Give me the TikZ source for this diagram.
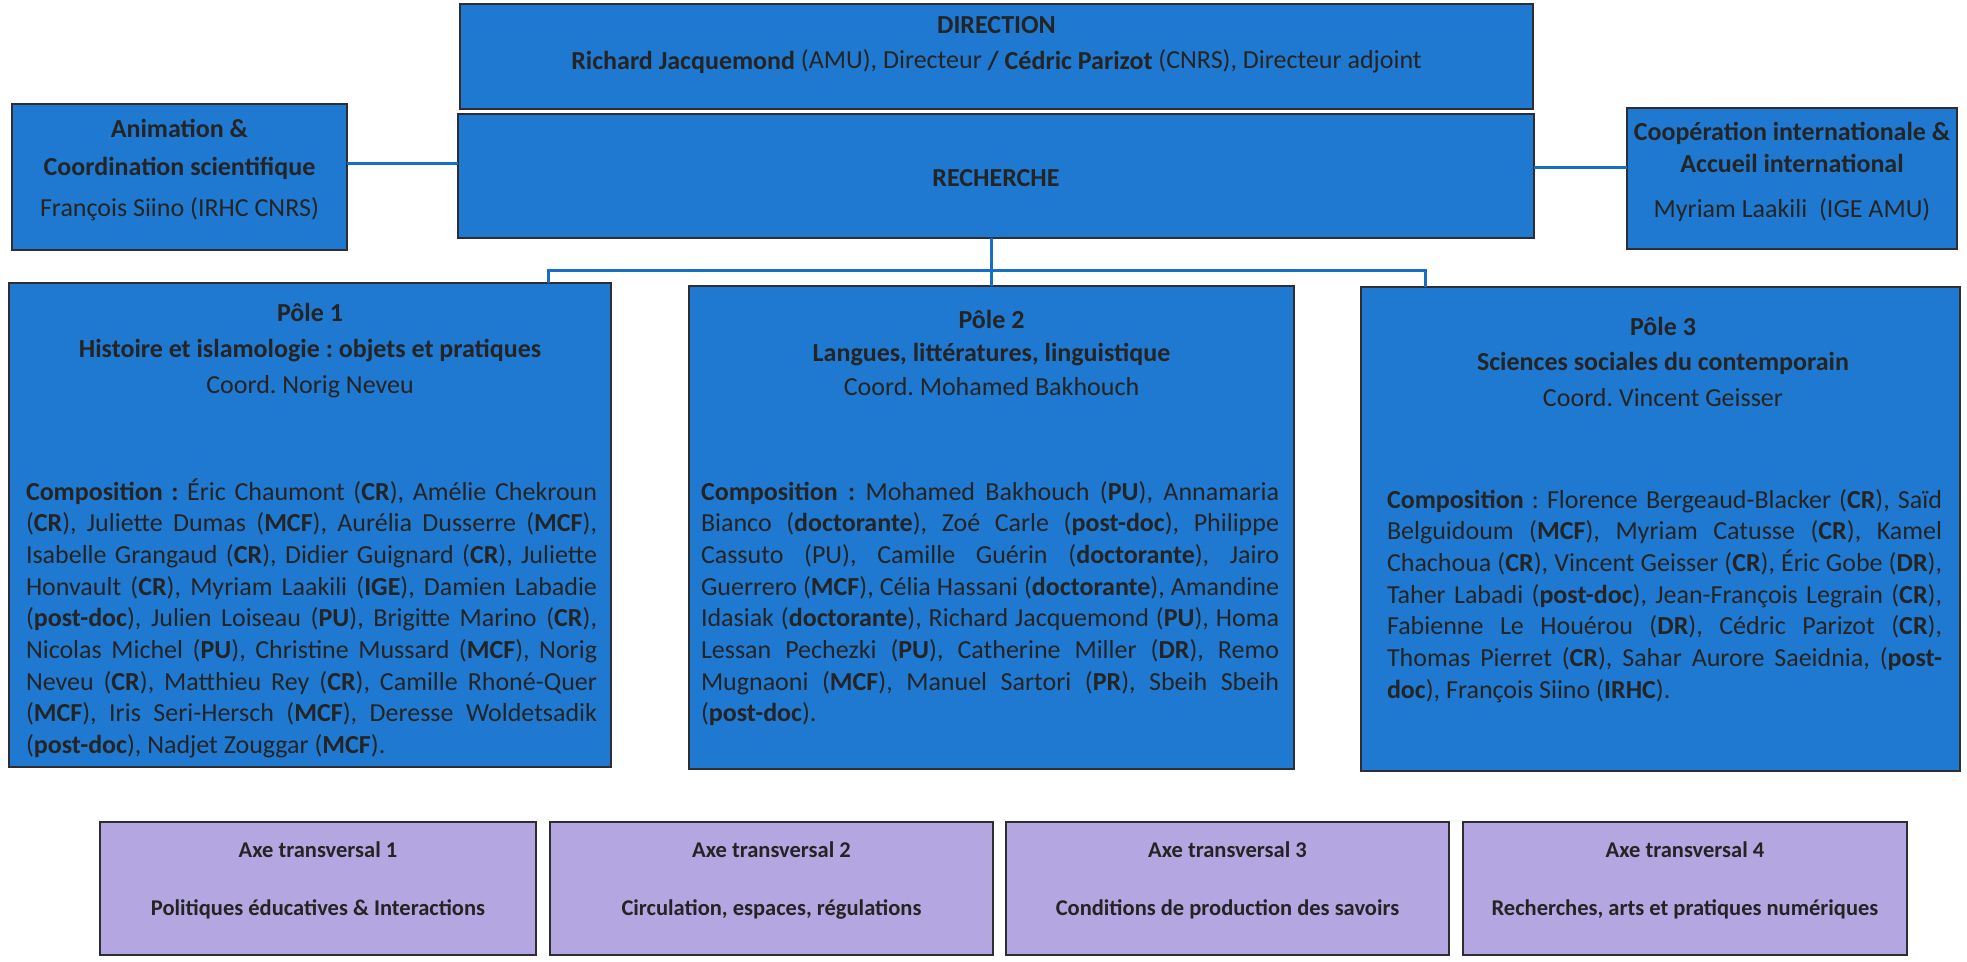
\documentclass[tikz,border=0pt]{standalone}
\usepackage{fontspec}
\setmainfont{Carlito}
\frenchspacing
\definecolor{boxblue}{RGB}{31,121,208}
\definecolor{axepurple}{RGB}{180,166,224}
\definecolor{ink}{RGB}{36,36,36}
\definecolor{rimgray}{RGB}{45,45,50}
\definecolor{linkblue}{RGB}{25,110,195}
\newcommand\justline[1]{\makebox[\linewidth][s]{#1}\par}
\newcommand\lastline[1]{\makebox[\linewidth][l]{#1}\par}
\begin{document}
\begin{tikzpicture}[x=1pt,y=-1pt,
  bluebox/.style={draw=rimgray, line width=2pt, fill=boxblue, inner sep=0pt, outer sep=0pt, anchor=north west},
  axebox/.style={draw=rimgray, line width=2pt, fill=axepurple, inner sep=0pt, outer sep=0pt, anchor=north west},
  txt/.style={inner sep=0pt, outer sep=0pt, anchor=base, text=ink, font=\fontsize{26}{36}\selectfont},
  para/.style={inner sep=0pt, outer sep=0pt, anchor=base west, text=ink, font=\fontsize{26}{31.7}\selectfont},
  axetxt/.style={inner sep=0pt, outer sep=0pt, anchor=base, text=ink, font=\fontsize{22.5}{58}\selectfont},
  link/.style={draw=linkblue, line width=3pt}]
\useasboundingbox (0,0) rectangle (1967,961);

% boxes
\node[bluebox, minimum width=1073pt, minimum height=105pt] (dir) at (460,4) {};
\node[bluebox, minimum width=1076pt, minimum height=124pt] (rech) at (458,114) {};
\node[bluebox, minimum width=335pt, minimum height=146pt] (anim) at (12,104) {};
\node[bluebox, minimum width=330pt, minimum height=141pt] (coop) at (1627,108) {};
\node[bluebox, minimum width=602pt, minimum height=484pt] (p1) at (9,283) {};
\node[bluebox, minimum width=605pt, minimum height=483pt] (p2) at (689,286) {};
\node[bluebox, minimum width=599pt, minimum height=484pt] (p3) at (1361,287) {};
\node[axebox, minimum width=436pt, minimum height=133pt] (a1) at (100,822) {};
\node[axebox, minimum width=443pt, minimum height=133pt] (a2) at (550,822) {};
\node[axebox, minimum width=443pt, minimum height=133pt] (a3) at (1006,822) {};
\node[axebox, minimum width=444pt, minimum height=133pt] (a4) at (1463,822) {};

% connectors
\coordinate (lk) at (0,163);
\coordinate (rk) at (0,167);
\coordinate (hl) at (548,270);
\coordinate (hr) at (1425,270);
\draw[link] (anim.east |- lk) -- (rech.west |- lk);
\draw[link] (rech.east |- rk) -- (coop.west |- rk);
\draw[link] (rech.south -| p2.north) -- (p2.north);
\draw[link] (p1.north -| hl) -- (hl) -- (hr) -- (p3.north -| hr);

% header texts
\node[txt] (dirt) at (996.5,33) {\parbox[t]{1060pt}{\centering\textbf{DIRECTION}\\
  \textbf{Richard Jacquemond} (AMU), Directeur \textbf{/ Cédric Parizot} (CNRS), Directeur adjoint}};
\node[txt] (recht) at (996,186) {\textbf{RECHERCHE}};
\node[txt, font=\fontsize{26}{38}\selectfont] (animt) at (179.5,137) {\parbox[t]{330pt}{\centering\textbf{Animation \&}\\
  \textbf{Coordination scientifique}\\[3pt] François Siino (IRHC CNRS)}};
\node[txt, font=\fontsize{26}{32}\selectfont] (coopt) at (1792,140) {\parbox[t]{330pt}{\centering\textbf{Coopération internationale \&}\\
  \textbf{Accueil international}\\[13pt] Myriam Laakili\ \ (IGE AMU)}};

\node[txt] (p1t) at (310,321) {\parbox[t]{590pt}{\centering\textbf{Pôle 1}\\
  \textbf{Histoire et islamologie : objets et pratiques}\\ Coord. Norig Neveu}};
\node[txt, font=\fontsize{26}{33.5}\selectfont] (p2t) at (991.5,328) {\parbox[t]{590pt}{\centering\textbf{Pôle 2}\\
  \textbf{Langues, littératures, linguistique}\\ Coord. Mohamed Bakhouch}};
\node[txt, font=\fontsize{26}{35.5}\selectfont] (p3t) at (1663,335) {\parbox[t]{590pt}{\centering\textbf{Pôle 3}\\
  \textbf{Sciences sociales du contemporain}\\ Coord. Vincent Geisser}};

% compositions
\node[para] (c1) at (26,500) {\parbox[t]{571pt}{%
\justline{\textbf{Composition :} Éric Chaumont (\textbf{CR}), Amélie Chekroun}
\justline{(\textbf{CR}), Juliette Dumas (\textbf{MCF}), Aurélia Dusserre (\textbf{MCF}),}
\justline{Isabelle Grangaud (\textbf{CR}), Didier Guignard (\textbf{CR}), Juliette}
\justline{Honvault (\textbf{CR}), Myriam Laakili (\textbf{IGE}), Damien Labadie}
\justline{(\textbf{post-doc}), Julien Loiseau (\textbf{PU}), Brigitte Marino (\textbf{CR}),}
\justline{Nicolas Michel (\textbf{PU}), Christine Mussard (\textbf{MCF}), Norig}
\justline{Neveu (\textbf{CR}), Matthieu Rey (\textbf{CR}), Camille Rhoné-Quer}
\justline{(\textbf{MCF}), Iris Seri-Hersch (\textbf{MCF}), Deresse Woldetsadik}
\lastline{(\textbf{post-doc}), Nadjet Zouggar (\textbf{MCF}).}}};

\node[para] (c2) at (701,500) {\parbox[t]{578pt}{%
\justline{\textbf{Composition :} Mohamed Bakhouch (\textbf{PU}), Annamaria}
\justline{Bianco (\textbf{doctorante}), Zoé Carle (\textbf{post-doc}), Philippe}
\justline{Cassuto (PU), Camille Guérin (\textbf{doctorante}), Jairo}
\justline{Guerrero (\textbf{MCF}), Célia Hassani (\textbf{doctorante}), Amandine}
\justline{Idasiak (\textbf{doctorante}), Richard Jacquemond (\textbf{PU}), Homa}
\justline{Lessan Pechezki (\textbf{PU}), Catherine Miller (\textbf{DR}), Remo}
\justline{Mugnaoni (\textbf{MCF}), Manuel Sartori (\textbf{PR}), Sbeih Sbeih}
\lastline{(\textbf{post-doc}).}}};

\node[para] (c3) at (1387,508) {\parbox[t]{555pt}{%
\justline{\textbf{Composition} : Florence Bergeaud-Blacker (\textbf{CR}), Saïd}
\justline{Belguidoum (\textbf{MCF}), Myriam Catusse (\textbf{CR}), Kamel}
\justline{Chachoua (\textbf{CR}), Vincent Geisser (\textbf{CR}), Éric Gobe (\textbf{DR}),}
\justline{Taher Labadi (\textbf{post-doc}), Jean-François Legrain (\textbf{CR}),}
\justline{Fabienne Le Houérou (\textbf{DR}), Cédric Parizot (\textbf{CR}),}
\justline{Thomas Pierret (\textbf{CR}), Sahar Aurore Saeidnia, (\textbf{post-}}
\lastline{\textbf{doc}), François Siino (\textbf{IRHC}).}}};

% axes
\node[axetxt] (a1t) at (318,857) {\parbox[t]{430pt}{\centering\textbf{Axe transversal 1}\\ \textbf{Politiques éducatives \& Interactions}}};
\node[axetxt] (a2t) at (771.5,857) {\parbox[t]{430pt}{\centering\textbf{Axe transversal 2}\\ \textbf{Circulation, espaces, régulations}}};
\node[axetxt] (a3t) at (1227.5,857) {\parbox[t]{430pt}{\centering\textbf{Axe transversal 3}\\ \textbf{Conditions de production des savoirs}}};
\node[axetxt] (a4t) at (1685,857) {\parbox[t]{430pt}{\centering\textbf{Axe transversal 4}\\ \textbf{Recherches, arts et pratiques numériques}}};
\end{tikzpicture}
\end{document}
